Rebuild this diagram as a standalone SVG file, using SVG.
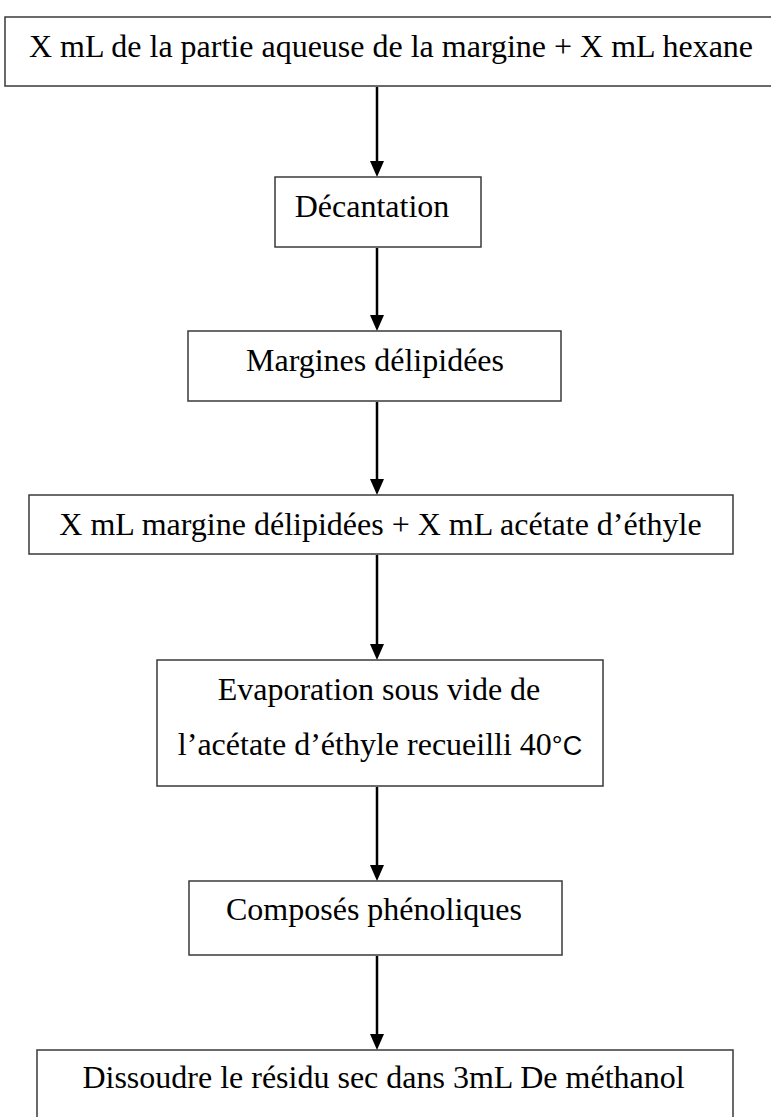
<svg xmlns="http://www.w3.org/2000/svg" width="771" height="1117" viewBox="0 0 771 1117">
<style>
.box{fill:#fff;stroke:#3a3a3a;stroke-width:1.5}
.t{font-family:"Liberation Serif","Times New Roman",serif;font-size:32px;fill:#000;text-anchor:middle}
.c{stroke:#000;stroke-width:2.5;fill:none}
.sans{font-family:"Liberation Sans",Arial,sans-serif;font-size:27px}
</style>
<rect width="771" height="1117" fill="#fff"/>
<g id="connectors">
<line class="c" x1="377" y1="87" x2="377" y2="163"/>
<path d="M370,161 L384,161 L377,177 Z" fill="#000"/>
<line class="c" x1="377" y1="248" x2="377" y2="317"/>
<path d="M370,315 L384,315 L377,331 Z" fill="#000"/>
<line class="c" x1="377" y1="402" x2="377" y2="481"/>
<path d="M370,479 L384,479 L377,495 Z" fill="#000"/>
<line class="c" x1="377" y1="555" x2="377" y2="646"/>
<path d="M370,644 L384,644 L377,660 Z" fill="#000"/>
<line class="c" x1="377" y1="787" x2="377" y2="867"/>
<path d="M370,865 L384,865 L377,881 Z" fill="#000"/>
<line class="c" x1="377" y1="956" x2="377" y2="1036"/>
<path d="M370,1034 L384,1034 L377,1050 Z" fill="#000"/>
</g>
<g id="n1">
<rect class="box" x="5" y="17" width="780" height="69"/>
<text class="t" x="391" y="57">X mL de la partie aqueuse de la margine + X mL hexane</text>
</g>
<g id="n2">
<rect class="box" x="275" y="177" width="206" height="70"/>
<text class="t" x="372" y="217">Décantation</text>
</g>
<g id="n3">
<rect class="box" x="188" y="331" width="373" height="70"/>
<text class="t" x="375" y="371">Margines délipidées</text>
</g>
<g id="n4">
<rect class="box" x="29" y="495" width="704" height="59"/>
<text class="t" x="380.5" y="535">X mL margine délipidées + X mL acétate d’éthyle</text>
</g>
<g id="n5">
<rect class="box" x="157" y="660" width="446" height="126"/>
<text class="t" x="379" y="700">Evaporation sous vide de</text>
<text class="t" x="380" y="755">l’acétate d’éthyle recueilli 40<tspan class="sans">°C</tspan></text>
</g>
<g id="n6">
<rect class="box" x="189" y="881" width="373" height="74"/>
<text class="t" x="374" y="920">Composés phénoliques</text>
</g>
<g id="n7">
<rect class="box" x="37" y="1050" width="696" height="90"/>
<text class="t" x="383.5" y="1088">Dissoudre le résidu sec dans 3mL De méthanol</text>
</g>
</svg>
